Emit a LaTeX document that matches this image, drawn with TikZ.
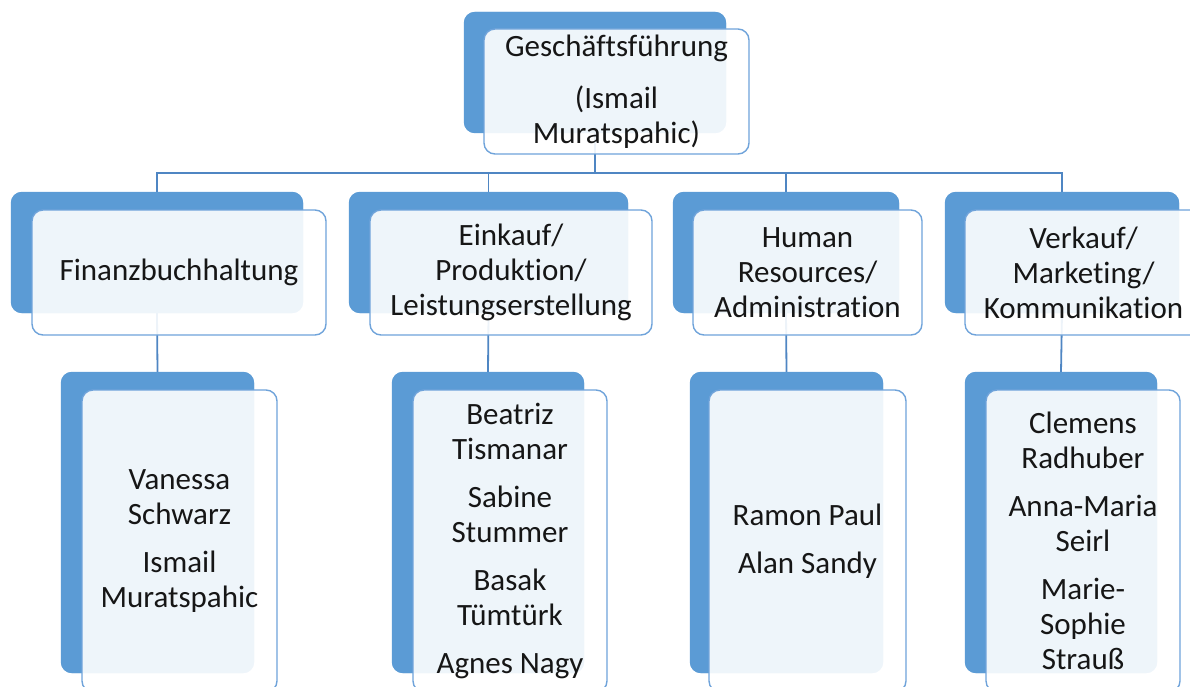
\documentclass[tikz,border=0pt]{standalone}
\usepackage{fontspec}
\setmainfont[Ligatures=NoCommon]{Carlito}
\newcommand{\nl}{\kern0pt{}}
\definecolor{backblue}{HTML}{5B9BD5}
\definecolor{edgeblue}{HTML}{6FA3DA}
\definecolor{linkblue}{HTML}{4F86C3}
\definecolor{txt}{HTML}{161616}
\begin{document}
\begin{tikzpicture}[x=1pt,y=-1pt,
  backbox/.style={draw=none,fill=backblue,rounded corners=11pt,inner sep=0pt},
  frontbox/.style={draw=edgeblue,line width=1.4pt,fill=white,fill opacity=0.9,text opacity=1,
    rounded corners=11pt,inner sep=0pt,align=center,text=txt,
    font=\fontsize{31}{35}\selectfont},
  link/.style={draw=linkblue,line width=1.8pt}]
\useasboundingbox (0,0) rectangle (1190,687);
\clip (0,0) rectangle (1190,687);
% back boxes
\node[backbox,minimum width=262pt,minimum height=121pt] (t0) at (595,72.5) {};
\node[backbox,minimum width=292pt,minimum height=121pt] (a0) at (157,252.5) {};
\node[backbox,minimum width=279pt,minimum height=121pt] (b0) at (488.5,252.5) {};
\node[backbox,minimum width=226pt,minimum height=121pt] (c0) at (786,252.5) {};
\node[backbox,minimum width=234pt,minimum height=121pt] (d0) at (1062,252.5) {};
\node[backbox,minimum width=193pt,minimum height=301pt] (a1) at (157.5,522.5) {};
\node[backbox,minimum width=192pt,minimum height=301pt] (b1) at (488,522.5) {};
\node[backbox,minimum width=193pt,minimum height=301pt] (c1) at (786.5,522.5) {};
\node[backbox,minimum width=192pt,minimum height=301pt] (d1) at (1061,522.5) {};
% connectors
\coordinate (bar) at (595,173);
\draw[link] (t0.south) -- (bar);
\draw[link] (a0.north) |- (bar) -| (d0.north);
\draw[link] (b0.north) -- (b0.north |- bar);
\draw[link] (c0.north) -- (c0.north |- bar);
\draw[link] (a0.south) -- (a1.north);
\draw[link] (b0.south) -- (b1.north);
\draw[link] (c0.south) -- (c1.north);
\draw[link] (d0.south) -- (d1.north);
% redraw back boxes over connectors
\foreach \n in {t0,a0,b0,c0,d0,a1,b1,c1,d1}
  \fill[backblue,rounded corners=11pt] (\n.south west) rectangle (\n.north east);
% front boxes
\node[frontbox,minimum width=265pt,minimum height=125pt] (t) at (616.5,91.5)
  {Geschäf\nl tsführung\\[17pt](Ismail\\Muratspahic)};
\node[frontbox,minimum width=294pt,minimum height=125pt] (a) at (179,272.5)
  {Finanzbuchhaltung};
\node[frontbox,minimum width=282pt,minimum height=125pt] (b) at (511,272.5)
  {Einkauf/\\Produkt\nl ion/\\Leistungserstellung};
\node[frontbox,minimum width=229pt,minimum height=125pt] (c) at (807.5,272.5)
  {Human\\Resources/\\Administrat\nl ion};
\node[frontbox,minimum width=237pt,minimum height=125pt] (d) at (1083.5,272.5)
  {Verkauf/\\Marketing/\\Kommunikat\nl ion};
\node[frontbox,minimum width=195pt,minimum height=302pt] (a2) at (179.5,541)
  {Vanessa\\Schwarz\\[13pt]Ismail\\Muratspahic};
\node[frontbox,minimum width=194pt,minimum height=302pt] (b2) at (510,541)
  {Beatriz\\Tismanar\\[13pt]Sabine\\Stummer\\[13pt]Basak\\Tümtürk\\[13pt]Agnes Nagy};
\node[frontbox,minimum width=197pt,minimum height=302pt] (c2) at (807.5,541)
  {Ramon Paul\\[13pt]Alan Sandy};
\node[frontbox,minimum width=194pt,minimum height=302pt] (d2) at (1083,541)
  {Clemens\\Radhuber\\[13pt]Anna-Maria\\Seirl\\[13pt]Marie-\\Sophie\\Strauß};
\end{tikzpicture}
\end{document}
